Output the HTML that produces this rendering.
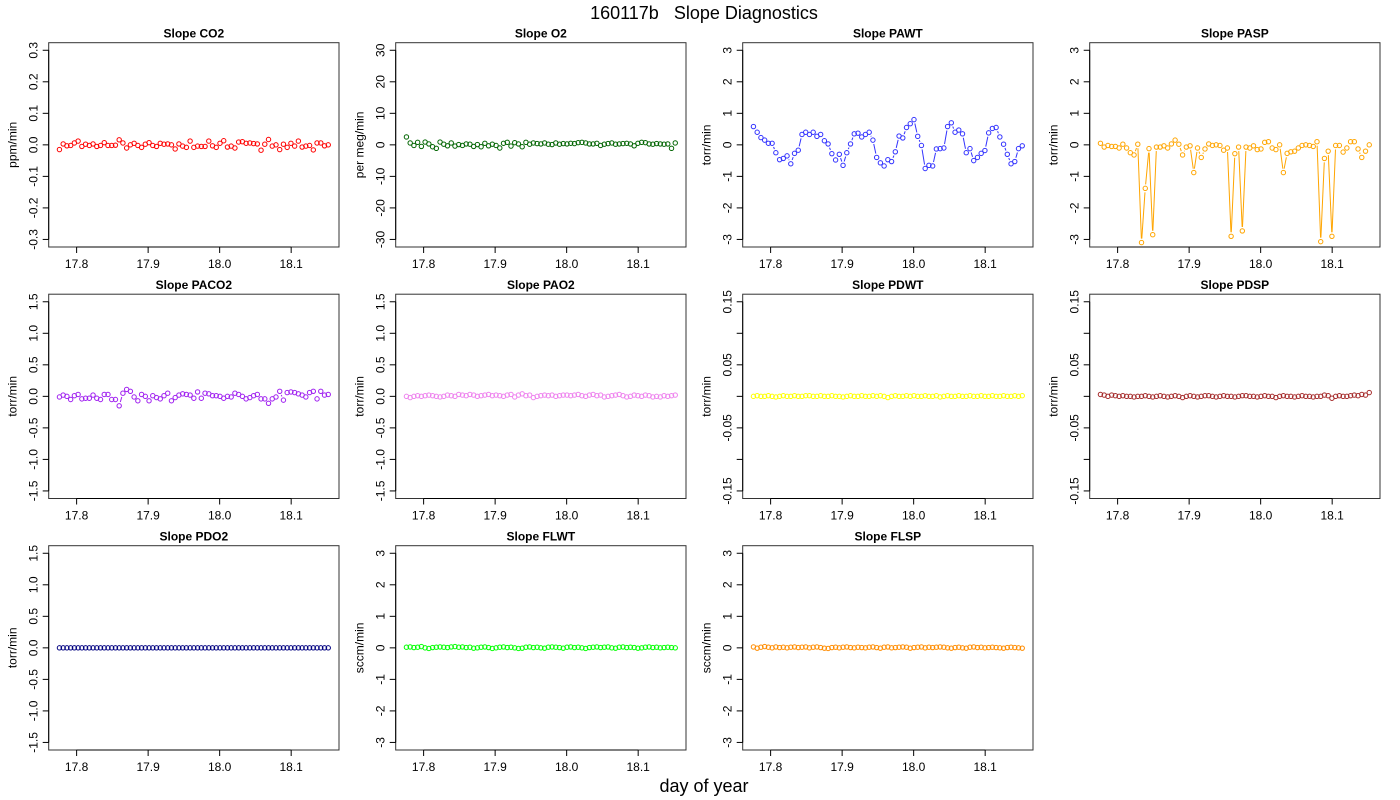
<!DOCTYPE html>
<html><head><meta charset="utf-8">
<style>
html,body{margin:0;padding:0;background:#fff;}
svg{display:block;font-family:"Liberation Sans",Arial,sans-serif;}
text{white-space:pre;}
</style></head>
<body>
<svg id="chart" width="1400" height="800" viewBox="0 0 1400 800" xmlns="http://www.w3.org/2000/svg">
<text x="704" y="19" font-size="18" text-anchor="middle" xml:space="preserve">160117b   Slope Diagnostics</text>
<text x="704" y="792" font-size="18" text-anchor="middle">day of year</text>
</svg>
<script>
const xTicks = [17.8, 17.9, 18.0, 18.1];
const xTickLabels = ["17.8", "17.9", "18.0", "18.1"];
const tStart = 17.776;
const tStep = 0.00522;
const panelTitles = ["Slope CO2","Slope O2","Slope PAWT","Slope PASP","Slope PACO2","Slope PAO2","Slope PDWT","Slope PDSP","Slope PDO2","Slope FLWT","Slope FLSP"];
const panelUnits = ["ppm/min","per meg/min","torr/min","torr/min","torr/min","torr/min","torr/min","torr/min","torr/min","sccm/min","sccm/min"];
const panelColors = ["#ff0000","#006400","#3333ff","#ffa500","#a020f0","#ee82ee","#ffff00","#a52a2a","#000080","#00ff00","#ff8c00"];
const panelYLim = [[-0.3,0.3],[-30,30],[-3,3],[-3,3],[-1.5,1.5],[-1.5,1.5],[-0.15,0.15],[-0.15,0.15],[-1.5,1.5],[-3,3],[-3,3]];
const panelYTicks = [
 ["-0.3","-0.2","-0.1","0.0","0.1","0.2","0.3"],
 ["-30","-20","-10","0","10","20","30"],
 ["-3","-2","-1","0","1","2","3"],
 ["-3","-2","-1","0","1","2","3"],
 ["-1.5","-1.0","-0.5","0.0","0.5","1.0","1.5"],
 ["-1.5","-1.0","-0.5","0.0","0.5","1.0","1.5"],
 ["-0.15","-0.10","-0.05","0.00","0.05","0.10","0.15"],
 ["-0.15","-0.10","-0.05","0.00","0.05","0.10","0.15"],
 ["-1.5","-1.0","-0.5","0.0","0.5","1.0","1.5"],
 ["-3","-2","-1","0","1","2","3"],
 ["-3","-2","-1","0","1","2","3"]];
const co2 = [-0.015,0.003,-0.003,-0.002,0.006,0.012,-0.005,0.002,-0.002,0.003,-0.005,-0.002,0.007,-0.002,-0.002,-0.001,0.016,0.006,-0.01,0.0,0.005,-0.002,-0.008,0.002,0.007,-0.002,-0.005,0.005,0.002,0.003,0.0,-0.013,0.003,-0.004,-0.008,0.012,-0.008,-0.004,-0.005,-0.005,0.012,-0.003,-0.008,0.005,0.013,-0.007,-0.004,-0.01,0.009,0.01,0.005,0.006,0.004,0.003,-0.017,0.002,0.017,-0.004,0.0,-0.015,0.002,-0.008,0.005,-0.004,0.012,-0.007,-0.004,-0.002,-0.016,0.006,0.006,-0.003,0.0];
const o2 = [2.5,0.6,-0.2,0.8,-0.5,0.9,0.3,-0.6,-1.1,0.9,0.2,-0.3,0.6,-0.4,0.1,-0.2,0.3,0.2,-0.5,0.1,-0.6,0.5,-0.3,0.2,-0.2,-1.0,0.5,0.8,-0.4,0.7,0.3,-0.6,0.8,0.2,0.6,0.4,0.3,0.6,0.2,0.1,0.6,0.2,0.4,0.3,0.5,0.4,0.7,0.8,0.6,0.3,0.3,0.5,-0.2,0.2,0.4,0.6,0.2,0.3,0.4,0.5,0.3,-0.3,0.5,0.8,0.7,0.3,0.2,0.4,0.3,0.2,0.3,-1.1,0.6];
const pawt = [0.58,0.4,0.23,0.15,0.05,0.05,-0.25,-0.47,-0.43,-0.35,-0.6,-0.27,-0.17,0.33,0.4,0.33,0.4,0.27,0.33,0.13,0.03,-0.28,-0.48,-0.3,-0.65,-0.25,0.03,0.35,0.37,0.25,0.33,0.4,0.15,-0.4,-0.57,-0.67,-0.47,-0.53,-0.22,0.28,0.22,0.55,0.67,0.8,0.27,-0.02,-0.75,-0.65,-0.67,-0.13,-0.12,-0.1,0.58,0.7,0.4,0.47,0.35,-0.25,-0.12,-0.5,-0.4,-0.27,-0.18,0.38,0.52,0.55,0.25,0.02,-0.3,-0.6,-0.53,-0.12,-0.03];
const pasp = [0.05,-0.07,-0.02,-0.05,-0.05,-0.1,0.02,-0.1,-0.25,-0.32,0.02,-3.1,-1.38,-0.12,-2.85,-0.07,-0.07,-0.03,-0.1,0.03,0.15,0.02,-0.32,-0.07,-0.03,-0.88,-0.1,-0.4,-0.13,0.03,-0.02,0.0,-0.02,-0.17,-0.1,-2.9,-0.28,-0.07,-2.73,-0.07,-0.1,-0.03,-0.15,-0.13,0.08,0.1,-0.1,-0.15,0.0,-0.88,-0.27,-0.22,-0.2,-0.1,-0.02,0.0,-0.02,-0.05,0.1,-3.07,-0.43,-0.2,-2.9,-0.02,-0.02,-0.23,-0.1,0.1,0.1,-0.13,-0.4,-0.2,0.0];
const paco2 = [-0.01,0.02,0.0,-0.05,0.01,0.03,-0.04,-0.03,-0.03,0.02,-0.03,-0.05,0.03,0.03,-0.05,-0.05,-0.15,0.05,0.11,0.08,-0.01,-0.07,0.03,0.0,-0.07,0.01,-0.02,-0.04,0.01,0.05,-0.07,-0.02,0.02,0.04,0.03,0.02,-0.03,0.07,-0.03,0.05,0.04,0.01,0.01,0.0,-0.03,0.0,-0.01,0.05,0.03,0.0,-0.04,-0.02,0.01,0.03,-0.04,-0.04,-0.11,-0.04,-0.01,0.08,-0.06,0.06,0.07,0.06,0.04,0.02,-0.01,0.06,0.08,-0.04,0.08,0.02,0.03];
const pao2 = [0.0,-0.02,0.0,0.01,0.0,0.01,0.02,0.01,0.0,-0.01,0.0,0.02,0.01,0.0,0.03,0.02,0.01,0.03,0.02,0.0,0.01,0.02,0.03,0.01,0.02,0.01,0.0,0.02,0.03,-0.01,0.02,0.04,0.01,0.02,-0.02,0.0,0.01,0.02,0.01,0.02,0.0,0.01,0.02,0.02,0.01,0.02,0.03,0.01,0.0,0.02,0.03,0.01,0.02,-0.01,0.0,0.01,0.02,0.03,0.01,-0.01,0.0,0.02,0.01,0.0,0.02,0.01,-0.01,0.0,-0.01,0.01,0.0,0.01,0.02];
const pdwt = [0.0,0.001,0.0,0.0,0.001,0.0,-0.001,0.0,0.001,0.0,0.0,0.001,0.0,0.0,0.001,0.001,0.0,0.0,0.001,0.0,0.0,0.001,0.0,0.0,-0.001,0.0,0.001,0.0,0.0,0.001,0.0,0.0,0.001,0.0,0.001,0.0,-0.002,0.0,0.001,0.0,0.0,0.001,0.0,0.001,0.0,0.0,0.001,0.0,0.0,0.001,-0.001,0.0,0.001,0.0,0.0,0.001,0.0,0.0,0.001,0.0,0.0,0.001,0.0,0.0,0.001,0.0,0.0,0.001,0.0,0.0,0.001,0.0,0.001];
const pdsp = [0.003,0.002,0.0,0.002,0.001,0.0,0.001,0.0,0.0,-0.001,0.0,0.0,0.001,0.0,-0.001,0.0,0.001,0.0,-0.001,0.0,0.001,0.0,-0.002,0.0,0.001,0.0,-0.001,0.0,0.001,0.001,0.0,-0.001,0.0,0.001,0.0,0.0,-0.001,0.0,0.001,0.001,0.0,0.0,-0.001,0.0,0.001,0.0,0.0,-0.002,0.0,0.001,0.0,0.0,-0.001,0.0,0.001,0.0,0.0,-0.001,0.0,0.0,0.002,0.001,-0.003,0.0,0.001,0.0,0.0,0.001,0.002,0.001,0.003,0.002,0.006];
const pdo2 = [0,0,0,0,0,0,0,0,0,0,0,0,0,0,0,0,0,0,0,0,0,0,0,0,0,0,0,0,0,0,0,0,0,0,0,0,0,0,0,0,0,0,0,0,0,0,0,0,0,0,0,0,0,0,0,0,0,0,0,0,0,0,0,0,0,0,0,0,0,0,0,0,0];
const flwt = [0.02,0.03,0.01,0.02,0.04,0.0,-0.02,0.01,0.02,0.03,0.02,0.01,0.03,0.04,0.02,0.03,0.01,0.02,-0.01,0.0,0.02,0.03,0.01,-0.02,0.0,0.02,0.03,0.01,0.02,0.0,-0.02,-0.01,0.02,0.03,0.01,0.02,0.0,-0.01,0.02,0.03,0.02,0.01,-0.01,0.02,0.03,0.01,0.02,0.0,-0.02,0.01,0.02,0.03,0.01,0.02,0.03,0.0,-0.01,0.02,0.03,0.01,0.02,0.01,-0.01,0.0,0.02,0.03,0.01,0.02,0.0,0.01,0.02,0.01,0.0];
const flsp = [0.03,-0.01,0.02,0.04,0.02,0.0,0.03,0.01,0.02,0.0,0.02,0.03,0.01,0.02,0.03,0.0,0.02,0.03,0.01,-0.01,-0.02,0.01,0.02,0.0,0.02,0.03,0.01,0.0,0.02,0.01,0.0,0.02,0.03,0.01,-0.01,0.02,0.03,0.0,0.01,0.02,0.03,0.02,-0.01,0.01,0.02,0.03,0.0,0.02,0.01,0.02,0.03,0.02,0.0,-0.01,0.01,0.02,0.0,-0.01,0.02,0.03,0.01,0.02,0.0,0.01,0.02,0.01,0.0,-0.01,0.01,0.02,0.01,0.0,-0.01];
const panelSeries = [co2,o2,pawt,pasp,paco2,pao2,pdwt,pdsp,pdo2,flwt,flsp];

const NS = "http://www.w3.org/2000/svg";
const svg = document.getElementById("chart");
const colLeft = [48.7, 395.7, 742.7, 1089.7];
const rowTop = [42.7, 294.2, 545.7];
const PW = 290.3, PH = 204.3;
function mk(tag, attrs, parent){ const e=document.createElementNS(NS,tag); for(const k in attrs) e.setAttribute(k,attrs[k]); (parent||svg).appendChild(e); return e; }

panelSeries.forEach((vals, p) => {
  const L = colLeft[p % 4], T = rowTop[Math.floor(p / 4)];
  const n = vals.length;
  const tMin = tStart, tMax = tStart + (n - 1) * tStep, tr = tMax - tMin;
  const x0 = tMin - 0.04 * tr, x1 = tMax + 0.04 * tr;
  const [ya, yb] = panelYLim[p], yr = yb - ya;
  const y0 = ya - 0.04 * yr, y1 = yb + 0.04 * yr;
  const xs = t => L + (t - x0) / (x1 - x0) * PW;
  const ys = v => T + (1 - (v - y0) / (y1 - y0)) * PH;
  const g = mk("g", {});
  
  
  const title = mk("text", {x: L + PW / 2, y: T - 5, "font-size": 12, "font-weight": "bold", "text-anchor": "middle"}, g);
  title.textContent = panelTitles[p];
  
  
  const box = mk("rect", {x: L, y: T, width: PW, height: PH, fill: "none", stroke: "#333", "stroke-width": 1}, g);
  
  
  const xa = mk("g", {}, g);
  
  
  mk("line", {x1: xs(xTicks[0]), x2: xs(xTicks[xTicks.length - 1]), y1: T + PH, y2: T + PH, stroke: "#000"}, xa);
  xTicks.forEach((v, i) => {
    const X = xs(v);
    mk("line", {x1: X, x2: X, y1: T + PH, y2: T + PH + 6, stroke: "#000"}, xa);
    const tl = mk("text", {x: X, y: T + PH + 21, "font-size": 12, "text-anchor": "middle"}, xa);
    tl.textContent = xTickLabels[i];
    
    
  });
  const ya_ = mk("g", {}, g);
  
  
  const labs = panelYTicks[p];
  const tickVals = labs.map(s => parseFloat(s));
  mk("line", {x1: L, x2: L, y1: ys(tickVals[0]), y2: ys(tickVals[tickVals.length - 1]), stroke: "#000"}, ya_);
  const sparse = labs[0].length >= 5;
  tickVals.forEach((v, i) => {
    const Y = ys(v);
    mk("line", {x1: L - 6, x2: L, y1: Y, y2: Y, stroke: "#000"}, ya_);
    if (sparse && i % 2 === 1) return;
    const tl = mk("text", {x: L - 11, y: Y, "font-size": 12, "text-anchor": "middle", transform: "rotate(-90 " + (L - 11) + " " + Y + ")"}, ya_);
    tl.textContent = labs[i];
    
    
  });
  const yt = mk("text", {x: L - 32, y: T + PH / 2, "font-size": 12, "text-anchor": "middle", transform: "rotate(-90 " + (L - 32) + " " + (T + PH / 2) + ")"}, g);
  yt.textContent = panelUnits[p];
  
  
  const col = panelColors[p];
  const sg = mk("g", {}, g);
  
  
  const r = 2.2, gap = 4;
  for (let i = 0; i < n - 1; i++) {
    const ax = xs(tStart + i * tStep), ay = ys(vals[i]);
    const bx = xs(tStart + (i + 1) * tStep), by = ys(vals[i + 1]);
    const dx = bx - ax, dy = by - ay, d = Math.hypot(dx, dy);
    if (d > 2 * gap + 0.5) {
      const ux = dx / d, uy = dy / d;
      const seg = mk("line", {x1: ax + ux * gap, y1: ay + uy * gap, x2: bx - ux * gap, y2: by - uy * gap, stroke: col, "stroke-width": 1}, sg);
      
      
    }
  }
  vals.forEach((v, i) => {
    const c = mk("circle", {cx: xs(tStart + i * tStep), cy: ys(v), r: r, fill: "none", stroke: col, "stroke-width": 1}, sg);
    
    
  });
});
</script>
</body></html>
